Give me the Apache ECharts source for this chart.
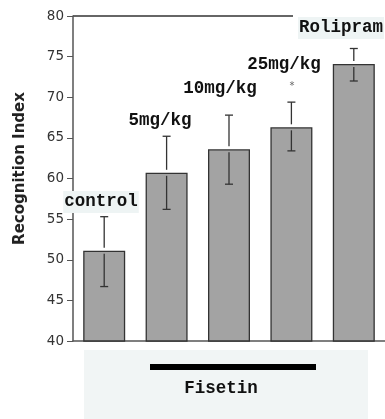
<!DOCTYPE html>
<html>
<head>
<meta charset="utf-8">
<script src="https://cdn.jsdelivr.net/npm/echarts@6/dist/echarts.min.js"></script>
<style>
  html, body { margin: 0; padding: 0; background: #fff; }
  #chart { width: 385px; height: 419px; }
</style>
</head>
<body>
<div id="chart"></div>
<script>
// 数据
var groups = ['control', '5mg/kg', '10mg/kg', '25mg/kg', 'Rolipram'];
var means = [51.1, 60.7, 63.6, 66.3, 74.1];
var errLow = [46.7, 56.2, 59.3, 63.4, 72.0];
var errHigh = [55.3, 65.2, 67.8, 69.4, 76.0];
var yTicks = [40, 45, 50, 55, 60, 65, 70, 75, 80];

var monoFont = '"Liberation Mono", "DejaVu Sans Mono", monospace';
var sansFont = '"DejaVu Sans", "Liberation Sans", sans-serif';

var myChart = echarts.init(document.getElementById('chart'));

var errData = [];
for (var i = 0; i < groups.length; i++) {
    errData.push([i, errLow[i], errHigh[i], means[i]]);
}

// 误差线 (柱顶处断开)
var renderErr = function (params, api) {
    var x = api.coord([api.value(0), 0])[0];
    var yLo = api.coord([0, api.value(1)])[1];
    var yHi = api.coord([0, api.value(2)])[1];
    var yBar = api.coord([0, api.value(3)])[1];
    var cap = 4;
    var st = { stroke: '#333', lineWidth: 1.3 };
    return {
        type: 'group',
        children: [
            { type: 'line', shape: { x1: x, y1: yHi, x2: x, y2: yBar - 3 }, style: st },
            { type: 'line', shape: { x1: x, y1: yBar + 3, x2: x, y2: yLo }, style: st },
            { type: 'line', shape: { x1: x - cap, y1: yHi, x2: x + cap, y2: yHi }, style: st },
            { type: 'line', shape: { x1: x - cap, y1: yLo, x2: x + cap, y2: yLo }, style: st }
        ]
    };
};

var labelBox = function (text, x, y, bg) {
    return {
        type: 'text',
        x: x, y: y,
        z: 10,
        style: {
            text: text,
            font: 'bold 17.5px ' + monoFont,
            fill: '#111',
            align: 'center',
            verticalAlign: 'middle',
            backgroundColor: bg || 'transparent',
            padding: bg ? [2, 1, 2, 1] : 0
        }
    };
};

option = {
    animation: false,
    backgroundColor: '#fff',
    grid: {
        left: 73,
        right: 0,
        top: 16,
        bottom: 78
    },
    xAxis: {
        type: 'category',
        data: groups,
        axisLine: { lineStyle: { color: '#555', width: 1.5 } },
        axisTick: { alignWithLabel: true, length: 9, lineStyle: { color: '#555' } },
        axisLabel: { show: false }
    },
    yAxis: {
        type: 'value',
        min: yTicks[0],
        max: yTicks[yTicks.length - 1],
        interval: 5,
        axisLine: { show: true, lineStyle: { color: '#555', width: 1.5 } },
        axisTick: { show: true, length: 6, lineStyle: { color: '#555' } },
        axisLabel: { color: '#333', fontSize: 13.5, fontFamily: sansFont, margin: 9 },
        splitLine: { show: false },
        name: 'Recognition Index',
        nameLocation: 'middle',
        nameGap: 45,
        nameTextStyle: { fontSize: 15, fontWeight: 'bold', fontFamily: sansFont, color: '#222', padding: [0, 0, 0, 20] }
    },
    graphic: [
        // 顶部横线
        { type: 'line', shape: { x1: 73, y1: 16, x2: 293, y2: 16 }, style: { stroke: '#333', lineWidth: 1.3 } },
        // 下方 Fisetin 区域
        { type: 'rect', shape: { x: 84, y: 350, width: 284, height: 69 }, style: { fill: '#f1f5f5' }, z: -1 },
        { type: 'rect', shape: { x: 150, y: 364, width: 166, height: 6 }, style: { fill: '#000' } },
        labelBox('Fisetin', 221, 389),
        labelBox('control', 101, 202, '#eef4f4'),
        labelBox('5mg/kg', 160, 121),
        labelBox('10mg/kg', 220, 89),
        labelBox('25mg/kg', 284, 65),
        { type: 'text', x: 292, y: 86, style: { text: '*', font: '10px ' + sansFont, fill: '#666', align: 'center', verticalAlign: 'middle' } },
        labelBox('Rolipram', 341, 28, '#eef4f4')
    ],
    series: [
        {
            type: 'bar',
            data: means,
            barWidth: 42,
            itemStyle: { color: '#a3a3a3', borderColor: '#333', borderWidth: 1.3 }
        },
        {
            type: 'custom',
            renderItem: renderErr,
            data: errData,
            z: 5
        }
    ]
};
myChart.setOption(option);
</script>
</body>
</html>
